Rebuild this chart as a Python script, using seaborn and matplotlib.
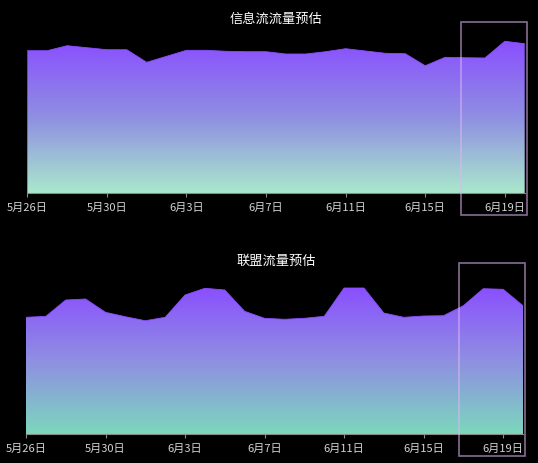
import numpy as np
import pandas as pd
import matplotlib
matplotlib.use("Agg")
import matplotlib.pyplot as plt
import matplotlib.transforms as mtransforms
from matplotlib.colors import LinearSegmentedColormap
from matplotlib.patches import Rectangle
import seaborn as sns

# Daily traffic estimates, 5/26 - 6/20
dates = pd.date_range("2023-05-26", "2023-06-20", freq="D")
feed_traffic = [1426, 1426, 1476, 1456, 1436, 1436, 1310, 1370, 1430, 1430,
                1420, 1416, 1416, 1393, 1393, 1416, 1446, 1423, 1400, 1396,
                1276, 1360, 1356, 1353, 1520, 1496]
union_traffic = [1170, 1180, 1343, 1353, 1220, 1176, 1136, 1170, 1393, 1460,
                 1443, 1230, 1160, 1150, 1160, 1180, 1463, 1463, 1213, 1170,
                 1183, 1186, 1286, 1456, 1450, 1286]
titles = ["信息流流量预估", "联盟流量预估"]
tick_step = 4

sns.set_theme(style="dark", rc={"figure.facecolor": "black", "axes.facecolor": "black"})
plt.rcParams["font.family"] = ["Noto Sans CJK SC", "DejaVu Sans"]

W, H = 538, 464
fig = plt.figure(figsize=(W / 100, H / 100), dpi=100)
fig.patch.set_facecolor("black")

PURPLE = "#8a4fff"
panels = [
    # (left px, right px, baseline px, bottom colour, highlight x range)
    (27.3, 524.7, 194.3, "#aae8cc", (21.78, 25.11), 19),
    (26.0, 523.0, 435.3, "#7cd8bc", (21.76, 25.09), 261),
]
series = [feed_traffic, union_traffic]
ymax = 1600
ax_h = 160

days = np.arange(len(dates))
labels = [f"{d.month}月{d.day}日" for d in dates]

for (left, right, base, bottom_col, hl, title_y), values, title in zip(panels, series, titles):
    ax = fig.add_axes([left / W, (H - base) / H, (right - left) / W, ax_h / H])
    ax.set_facecolor("black")
    df = pd.DataFrame({"day": days, "value": values})
    sns.lineplot(data=df, x="day", y="value", ax=ax, color=PURPLE, linewidth=0.6, zorder=3)

    # gradient-filled area under the curve
    poly = ax.fill_between(df["day"], df["value"], 0, facecolor="none", edgecolor="none")
    path = poly.get_paths()[0]
    cmap = LinearSegmentedColormap.from_list("area", [bottom_col, "#8f8fe2", PURPLE], N=256)
    grad = np.linspace(0, 1, 256).reshape(-1, 1)
    im = ax.imshow(grad, cmap=cmap, aspect="auto", origin="lower",
                   extent=[days[0], days[-1], 0, max(values)], zorder=2)
    im.set_clip_path(path, ax.transData)

    ax.set_xlim(days[0], days[-1])
    ax.set_ylim(0, ymax)
    ax.set_xlabel("")
    ax.set_ylabel("")
    ax.set_yticks([])
    ax.set_xticks(days[::tick_step])
    ax.set_xticklabels(labels[::tick_step])
    ax.tick_params(axis="x", colors="#8a8a8a", labelcolor="#d4d4d4", labelsize=8,
                   length=3, width=0.8, direction="out", pad=3, bottom=True)
    ax.grid(False)
    for side in ["top", "left", "right"]:
        ax.spines[side].set_visible(False)
    ax.spines["bottom"].set_color("#8a8a8a")
    ax.spines["bottom"].set_linewidth(0.8)
    ax.spines["bottom"].set_zorder(4)

    # highlighted forecast window
    trans = mtransforms.blended_transform_factory(ax.transData, ax.transAxes)
    ax.add_patch(Rectangle((hl[0], -0.137), hl[1] - hl[0], 1.205, transform=trans,
                           fill=False, edgecolor="#e2b4f5", alpha=0.6, linewidth=1.2,
                           clip_on=False, zorder=5))

    fig.text(276 / W, 1 - title_y / H, title, color="white", fontsize=9.5,
             ha="center", va="center")

fig.savefig("out.png", dpi=100, facecolor="black")
